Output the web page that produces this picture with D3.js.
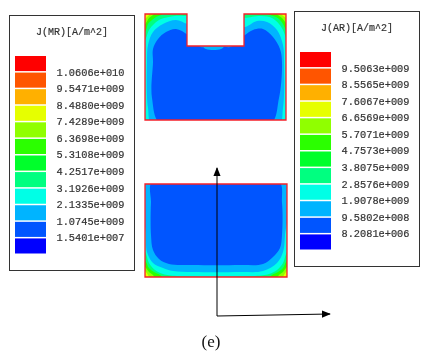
<!DOCTYPE html>
<html>
<head>
<meta charset="utf-8">
<script src="https://cdn.jsdelivr.net/npm/d3@7"></script>
<style>
html, body { margin: 0; padding: 0; background: #fff; }
svg { display: block; filter: blur(0.35px); }
</style>
</head>
<body>
<script>
// legend data
const bandColors = ["#ff0000", "#ff5500", "#ffb000", "#e6ff00", "#90ff00", "#2bff00", "#00ff2b", "#00ff80", "#00ffe6", "#00b4ff", "#0055ff", "#0000ff"]
const labelsMR = ["1.0606e+010", "9.5471e+009", "8.4880e+009", "7.4289e+009", "6.3698e+009", "5.3108e+009", "4.2517e+009", "3.1926e+009", "2.1335e+009", "1.0745e+009", "1.5401e+007"]
const labelsAR = ["9.5063e+009", "8.5565e+009", "7.6067e+009", "6.6569e+009", "5.7071e+009", "4.7573e+009", "3.8075e+009", "2.8576e+009", "1.9078e+009", "9.5802e+008", "8.2081e+006"]

// geometry of the two parts, in model units
const upperShape = [[0, 0], [42, 0], [42, 32], [99, 32], [99, 0], [141, 0], [141, 106], [0, 106]]
const lowerShape = [[0, 0], [142, 0], [142, 93], [0, 93]]

// contour regions, painted in order
const upperBands = [
  { color: "#00ffe6", pts: [[-3, -3], [144, -3], [144, 109], [-3, 109]] },
  { color: "#00ff80", pts: [[-3, -3], [44, -3], [44, 1], [30, 2], [16, 5], [9, 10], [4, 16], [1, 24], [-3, 30]] },
  { color: "#00ff80", pts: [[144, -3], [97, -3], [97, 3], [116, 2], [127, 4], [134, 10], [138, 16], [141, 24], [144, 30]] },
  { color: "#2bff00", pts: [[-3, -3], [20, -3], [16, 1], [11, 3], [7, 6], [3, 10], [1, 16], [-3, 21]] },
  { color: "#2bff00", pts: [[144, -3], [120, -3], [125, 1], [131, 3], [135, 6], [138, 10], [141, 16], [144, 21]] },
  { color: "#90ff00", pts: [[-3, -3], [11, -3], [8, 1], [4, 4], [1, 9], [-3, 12]] },
  { color: "#90ff00", pts: [[144, -3], [130, -3], [133, 1], [137, 4], [141, 9], [144, 12]] },
  { color: "#e6ff00", pts: [[-3, -3], [6, -3], [4, 1], [1, 4], [-3, 7]] },
  { color: "#e6ff00", pts: [[144, -3], [135, -3], [137, 1], [141, 4], [144, 7]] },
  { color: "#00b4ff", pts: [[8, 112], [3, 94], [2, 48], [3, 31], [8, 18], [18, 10], [31, 6], [43, 10], [70, 14], [100, 13], [112, 7], [122, 8], [132, 16], [138, 31], [139, 48], [138, 94], [133, 112]] },
  { color: "#0055ff", pts: [[17, 112], [7, 84], [8, 48], [8, 35], [13, 25], [21, 18], [31, 15], [43, 21], [56, 33], [70, 30], [85, 33], [100, 21], [108, 16], [118, 15], [128, 23], [135, 35], [137, 48], [134, 84], [124, 112]] },
  { color: "#00b4ff", pts: [[57, 31], [70, 30], [80, 31], [76, 35], [61, 35]] }
]
const lowerBands = [
  { color: "#00ffe6", pts: [[-3, -3], [145, -3], [145, 96], [-3, 96]] },
  { color: "#00ff80", pts: [[-3, 62], [1, 70], [4, 79], [10, 86], [18, 90], [32, 92], [110, 92], [124, 90], [132, 86], [138, 79], [141, 70], [145, 62], [145, 97], [-3, 97]] },
  { color: "#2bff00", pts: [[-3, 72], [1, 78], [4, 84], [9, 88], [15, 91], [20, 97], [-3, 97]] },
  { color: "#2bff00", pts: [[145, 72], [141, 78], [138, 84], [133, 88], [127, 91], [122, 97], [145, 97]] },
  { color: "#90ff00", pts: [[-3, 80], [1, 84], [4, 88], [8, 91], [11, 97], [-3, 97]] },
  { color: "#90ff00", pts: [[145, 80], [141, 84], [138, 88], [134, 91], [131, 97], [145, 97]] },
  { color: "#e6ff00", pts: [[-3, 85], [1, 88], [3, 91], [5, 97], [-3, 97]] },
  { color: "#e6ff00", pts: [[145, 85], [141, 88], [139, 91], [137, 97], [145, 97]] },
  { color: "#00b4ff", pts: [[1, -4], [1, 51], [2, 68], [8, 79], [18, 84], [28, 87], [48, 88], [95, 88], [118, 87], [132, 79], [138, 68], [140, 51], [141, -4]] },
  { color: "#0055ff", pts: [[8, -4], [6, 19], [6, 51], [8, 66], [14, 75], [24, 80], [48, 81], [95, 81], [118, 80], [128, 73], [135, 64], [137, 51], [137, 19], [133, -4]] }
]

// axes triad
const axisOrigin = [217, 316]
const axisTipY = [217, 168]
const axisTipX = [330, 314]

const width = 423
const height = 352

const svg = d3.select("body").append("svg")
  .attr("width", width)
  .attr("height", height)

const defs = svg.append("defs")
defs.append("marker")
  .attr("id", "head")
  .attr("viewBox", "0 0 10 10")
  .attr("refX", 9)
  .attr("refY", 5)
  .attr("markerUnits", "userSpaceOnUse")
  .attr("markerWidth", 9)
  .attr("markerHeight", 9)
  .attr("orient", "auto")
  .append("path")
  .attr("d", "M0,1 L10,5 L0,9 Z")
  .attr("fill", "#000")

function drawLegend(box, title, labels) {
  const g = svg.append("g")
  g.append("rect")
    .attr("x", box.x + 0.5)
    .attr("y", box.y + 0.5)
    .attr("width", box.w)
    .attr("height", box.h)
    .attr("fill", "#fff")
    .attr("stroke", "#333")
    .attr("stroke-width", 1)

  g.append("text")
    .attr("x", box.x + box.w / 2 + 0.5)
    .attr("y", box.y + box.titleDy)
    .attr("text-anchor", "middle")
    .attr("font-family", "Liberation Mono")
    .attr("font-size", 10)
    .attr("fill", "#333")
    .attr("stroke", "#333")
    .attr("stroke-width", 0.2)
    .text(title)

  const y = d3.scaleBand()
    .domain(d3.range(bandColors.length))
    .range([box.y + 41, box.y + 238.5])
    .paddingInner(0.09)

  g.selectAll("rect.swatch")
    .data(bandColors)
    .enter()
    .append("rect")
    .attr("class", "swatch")
    .attr("x", box.x + 6)
    .attr("y", (d, i) => y(i))
    .attr("width", 31)
    .attr("height", y.bandwidth())
    .attr("fill", d => d)

  g.selectAll("text.lab")
    .data(labels)
    .enter()
    .append("text")
    .attr("class", "lab")
    .attr("x", box.x + 47.5)
    .attr("y", (d, i) => y(i + 1) + 3)
    .attr("font-family", "Liberation Mono")
    .attr("font-size", 10.3)
    .attr("fill", "#333")
    .attr("stroke", "#333")
    .attr("stroke-width", 0.2)
    .text(d => d)
}

drawLegend({ x: 9, y: 15, w: 125, h: 255, titleDy: 20 }, "J(MR)[A/m^2]", labelsMR)
drawLegend({ x: 294, y: 11, w: 125, h: 255, titleDy: 20 }, "J(AR)[A/m^2]", labelsAR)

function drawPart(id, shape, bands, xRange, yRange) {
  const x = d3.scaleLinear().domain(d3.extent(shape, d => d[0])).range(xRange)
  const y = d3.scaleLinear().domain(d3.extent(shape, d => d[1])).range(yRange)
  const outline = d3.line().x(d => x(d[0])).y(d => y(d[1]))
  const contour = d3.line().x(d => x(d[0])).y(d => y(d[1])).curve(d3.curveCatmullRomClosed.alpha(0.5))

  defs.append("clipPath")
    .attr("id", id)
    .append("path")
    .attr("d", outline(shape) + "Z")

  svg.append("g")
    .attr("clip-path", `url(#${id})`)
    .selectAll("path")
    .data(bands)
    .enter()
    .append("path")
    .attr("d", d => contour(d.pts))
    .attr("fill", d => d.color)

  svg.append("path")
    .attr("d", outline(shape) + "Z")
    .attr("fill", "none")
    .attr("stroke", "#f5202a")
    .attr("stroke-width", 1.3)
}

drawPart("upper-clip", upperShape, upperBands, [145, 286], [14, 120])
drawPart("lower-clip", lowerShape, lowerBands, [145, 287], [184, 277])

// triad
svg.selectAll("line.axis")
  .data([axisTipY, axisTipX])
  .enter()
  .append("line")
  .attr("class", "axis")
  .attr("x1", axisOrigin[0])
  .attr("y1", axisOrigin[1])
  .attr("x2", d => d[0])
  .attr("y2", d => d[1])
  .attr("stroke", "#000")
  .attr("stroke-width", 1)
  .attr("marker-end", "url(#head)")

svg.append("text")
  .attr("x", 211)
  .attr("y", 347)
  .attr("text-anchor", "middle")
  .attr("font-family", "Liberation Serif")
  .attr("font-size", 17)
  .attr("fill", "#111")
  .text("(e)")
</script>
</body>
</html>
